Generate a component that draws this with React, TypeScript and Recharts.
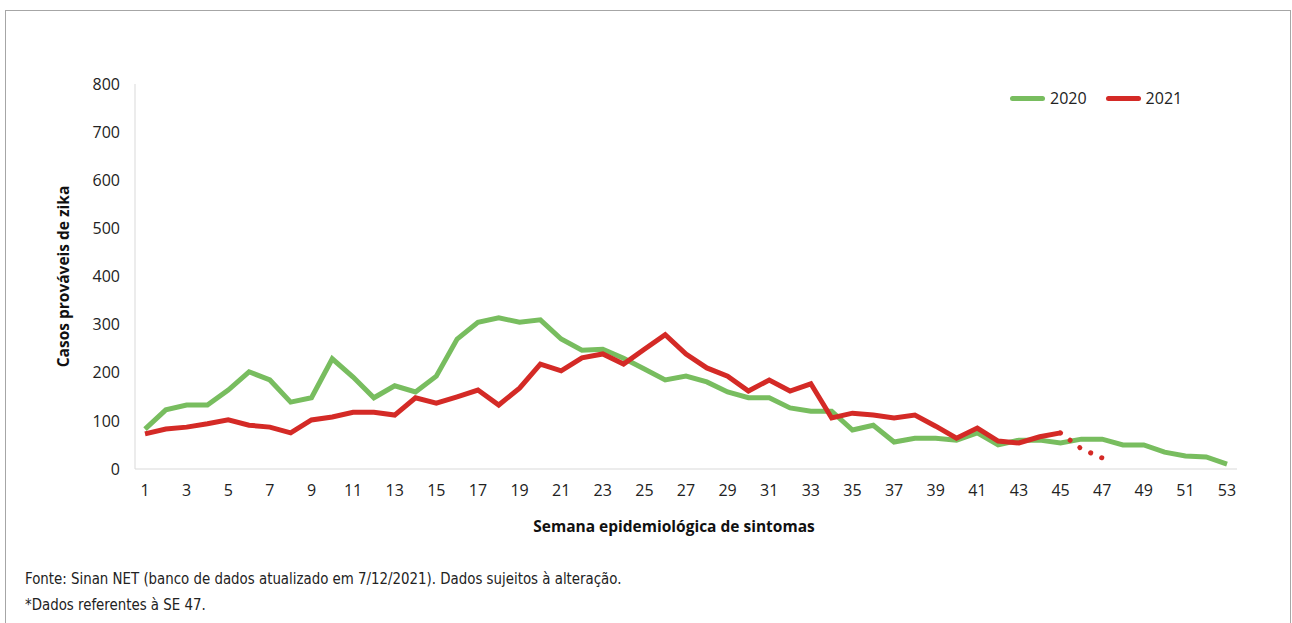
import { Line, LineChart, XAxis, YAxis } from "recharts";

const weeks = Array.from({ length: 53 }, (_, i) => String(i + 1));

const cases2020 = [
  83, 123, 133, 133, 164, 202, 185, 139, 148, 229,
  191, 148, 173, 160, 193, 270, 305, 314, 305, 310,
  270, 247, 249, 230, 208, 185, 193, 181, 160, 148,
  148, 127, 120, 120, 81, 91, 56, 64, 64, 60,
  75, 50, 60, 60, 54, 62, 62, 50, 50, 35,
  27, 25, 10,
];

const cases2021 = [
  73, 83, 87, 94, 102, 91, 87, 75, 102, 108,
  118, 118, 112, 148, 137, 150, 164, 133, 168, 218,
  204, 231, 239, 218, 249, 279, 239, 210, 193, 162,
  185, 162, 177, 106, 116, 112, 106, 112, 89, 64,
  85, 58, 54, 67, 75,
];

// last weeks of 2021, still incomplete (dotted)
const partial2021: Record<number, number> = { 45: 75, 46: 42, 47: 23 };

const yTicks = [0, 100, 200, 300, 400, 500, 600, 700, 800];

const data = weeks.map((w, i) => ({
  week: w,
  y2020: cases2020[i] ?? null,
  y2021: cases2021[i] ?? null,
  y2021p: partial2021[i + 1] ?? null,
}));

const GREEN = "#78bd5f";
const RED = "#d42a26";
const FONT = "'Open Sans', 'Noto Sans', sans-serif";

function LegendBox() {
  const item = (color: string, label: string, gap: number) => (
    <div style={{ display: "flex", alignItems: "center", marginRight: gap }}>
      <div style={{ width: 35, height: 5, borderRadius: 3, background: color, marginRight: 5 }} />
      <span style={{ fontSize: 16, color: "#222", fontFamily: FONT, lineHeight: "20px" }}>{label}</span>
    </div>
  );
  return (
    <div style={{ position: "absolute", left: 1010, top: 88, display: "flex" }}>
      {item(GREEN, "2020", 19)}
      {item(RED, "2021", 0)}
    </div>
  );
}

export default function App() {
  return (
    <div style={{ position: "absolute", left: 0, top: 0, width: 1292, height: 623, background: "#fff", overflow: "hidden", fontFamily: FONT }}>
      <div style={{ position: "absolute", left: 5, top: 10, width: 1284, height: 640, border: "1px solid #a6a6a6" }} />
      <LineChart width={1292} height={623} data={data} margin={{ top: 84, right: 55, left: 0, bottom: 84 }}>
        <XAxis
          dataKey="week"
          interval={1}
          padding={{ left: 10, right: 10 }}
          tickLine={false}
          axisLine={{ stroke: "#d9d9d9" }}
          tick={{ fill: "#222", fontSize: 16, fontFamily: FONT }}
          tickMargin={10}
          height={70}
          label={{ value: "Semana epidemiológica de sintomas", position: "insideBottom", offset: 7, dx: -12, fill: "#111", fontSize: 15.5, fontWeight: 700, fontFamily: FONT }}
        />
        <YAxis
          type="number"
          domain={[0, 800]}
          ticks={yTicks}
          width={135}
          tickLine={false}
          axisLine={{ stroke: "#d9d9d9" }}
          tick={{ fill: "#222", fontSize: 16, fontFamily: FONT }}
          tickMargin={9}
          label={{ value: "Casos prováveis de zika", angle: -90, position: "center", dx: -4, fill: "#111", fontSize: 15.5, fontWeight: 700, fontFamily: FONT }}
        />
        <Line type="linear" dataKey="y2020" stroke={GREEN} strokeWidth={5} dot={false} isAnimationActive={false} />
        <Line type="linear" dataKey="y2021" stroke={RED} strokeWidth={5} dot={false} isAnimationActive={false} />
        <Line type="linear" dataKey="y2021p" stroke={RED} strokeWidth={5} strokeLinecap="round" strokeDasharray="0.1 12" dot={false} legendType="none" isAnimationActive={false} />
      </LineChart>
      <LegendBox />
      <div style={{ position: "absolute", left: 25, top: 566, fontSize: 16.5, color: "#222", fontFamily: "'DejaVu Sans Condensed', 'DejaVu Sans', sans-serif", fontStretch: "condensed", lineHeight: "26px", transform: "scaleX(0.9)", transformOrigin: "left top", whiteSpace: "nowrap" }}>
        <div>Fonte: Sinan NET (banco de dados atualizado em 7/12/2021). Dados sujeitos à alteração.</div>
        <div>*Dados referentes à SE 47.</div>
      </div>
    </div>
  );
}
